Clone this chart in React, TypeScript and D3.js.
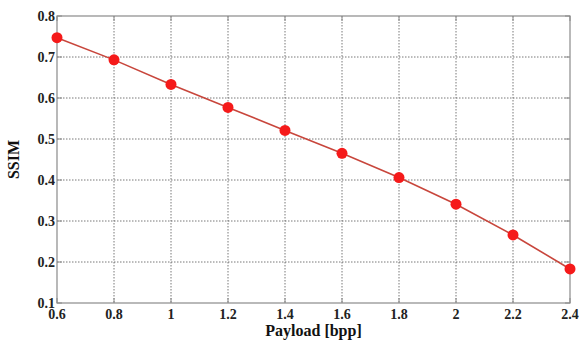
import React, { useEffect, useRef } from 'react';
import * as d3 from 'd3';

const payload = [0.6, 0.8, 1.0, 1.2, 1.4, 1.6, 1.8, 2.0, 2.2, 2.4];
const ssim = [0.747, 0.693, 0.633, 0.577, 0.521, 0.465, 0.406, 0.341, 0.266, 0.183];
const xTicks = [0.6, 0.8, 1, 1.2, 1.4, 1.6, 1.8, 2, 2.2, 2.4];
const yTicks = [0.1, 0.2, 0.3, 0.4, 0.5, 0.6, 0.7, 0.8];

export default function App() {
  const ref = useRef<SVGSVGElement>(null);

  useEffect(() => {
    const svg = d3.select(ref.current);
    svg.selectAll('*').remove();
    const m = { left: 57, top: 16, right: 570, bottom: 303 };
    const x = d3.scaleLinear().domain([0.6, 2.4]).range([m.left, m.right]);
    const y = d3.scaleLinear().domain([0.1, 0.8]).range([m.bottom, m.top]);
    const font = '"Liberation Serif", "Times New Roman", serif';

    svg.append('rect').attr('width', 584).attr('height', 343).attr('fill', '#fff');

    // grid
    const grid = svg.append('g').attr('stroke', '#555').attr('stroke-width', 0.8).attr('stroke-dasharray', '1.5,1.5');
    grid.selectAll('line.vx')
      .data(xTicks.slice(1, -1))
      .enter().append('line')
      .attr('x1', d => x(d)).attr('x2', d => x(d))
      .attr('y1', m.top).attr('y2', m.bottom);
    grid.selectAll('line.hy')
      .data(yTicks.slice(1, -1))
      .enter().append('line')
      .attr('x1', m.left).attr('x2', m.right)
      .attr('y1', d => y(d)).attr('y2', d => y(d));

    // frame
    svg.append('rect')
      .attr('x', m.left).attr('y', m.top)
      .attr('width', m.right - m.left).attr('height', m.bottom - m.top)
      .attr('fill', 'none').attr('stroke', '#8a8a8a').attr('stroke-width', 1.2);

    // tick marks
    const ticks = svg.append('g').attr('stroke', '#8a8a8a').attr('stroke-width', 1);
    xTicks.forEach(t => {
      ticks.append('line').attr('x1', x(t)).attr('x2', x(t)).attr('y1', m.bottom).attr('y2', m.bottom - 5);
      ticks.append('line').attr('x1', x(t)).attr('x2', x(t)).attr('y1', m.top).attr('y2', m.top + 5);
    });
    yTicks.forEach(t => {
      ticks.append('line').attr('x1', m.left).attr('x2', m.left + 5).attr('y1', y(t)).attr('y2', y(t));
      ticks.append('line').attr('x1', m.right).attr('x2', m.right - 5).attr('y1', y(t)).attr('y2', y(t));
    });

    // tick labels
    svg.append('g').selectAll('text')
      .data(xTicks).enter().append('text')
      .attr('x', d => x(d)).attr('y', m.bottom + 16)
      .attr('text-anchor', 'middle')
      .attr('font-family', font).attr('font-weight', 'bold').attr('font-size', 14)
      .attr('fill', '#222')
      .text(d => String(d));
    svg.append('g').selectAll('text')
      .data(yTicks).enter().append('text')
      .attr('x', m.left - 2).attr('y', d => y(d))
      .attr('dy', '0.35em')
      .attr('text-anchor', 'end')
      .attr('font-family', font).attr('font-weight', 'bold').attr('font-size', 14)
      .attr('fill', '#222')
      .text(d => d.toFixed(1));

    // axis titles
    svg.append('text')
      .attr('x', (m.left + m.right) / 2).attr('y', 336)
      .attr('text-anchor', 'middle')
      .attr('font-family', font).attr('font-weight', 'bold').attr('font-size', 16)
      .attr('fill', '#111')
      .text('Payload [bpp]');
    svg.append('text')
      .attr('transform', `translate(19,${(m.top + m.bottom) / 2}) rotate(-90)`)
      .attr('text-anchor', 'middle')
      .attr('font-family', font).attr('font-weight', 'bold').attr('font-size', 16)
      .attr('fill', '#111')
      .text('SSIM');

    // line + markers
    const pts = payload.map((p, i) => [p, ssim[i]] as [number, number]);
    const line = d3.line<[number, number]>().x(d => x(d[0])).y(d => y(d[1]));
    svg.append('path')
      .datum(pts)
      .attr('d', line)
      .attr('fill', 'none')
      .attr('stroke', '#c8463c')
      .attr('stroke-width', 1.6);
    svg.append('g').selectAll('circle')
      .data(pts).enter().append('circle')
      .attr('cx', d => x(d[0])).attr('cy', d => y(d[1]))
      .attr('r', 5.5)
      .attr('fill', '#f51a1a');
  }, []);

  return (
    <svg ref={ref} width={584} height={343} style={{ position: 'absolute', left: 0, top: 0 }} />
  );
}
